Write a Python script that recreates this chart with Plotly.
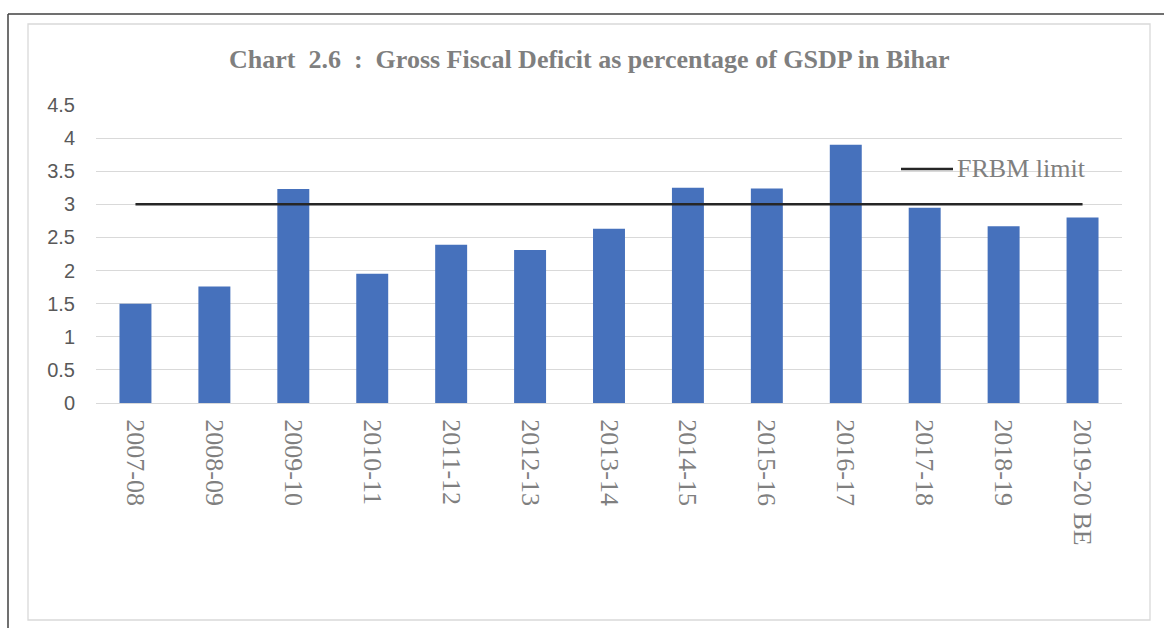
import plotly.graph_objects as go

# Gross Fiscal Deficit as % of GSDP, Bihar
years = ["2007-08", "2008-09", "2009-10", "2010-11", "2011-12", "2012-13",
         "2013-14", "2014-15", "2015-16", "2016-17", "2017-18", "2018-19",
         "2019-20 BE"]
gfd_pct = [1.50, 1.76, 3.23, 1.95, 2.39, 2.31, 2.63, 3.25, 3.24, 3.90, 2.95,
           2.67, 2.80]
frbm_limit = 3
y_ticks = [0, 0.5, 1, 1.5, 2, 2.5, 3, 3.5, 4, 4.5]

W, H = 1164, 628
L, R, T, B = 96, 1122, 105, 403  # plot area in pixels


def px_x(p):
    return (p - L) / (R - L)


def px_y(p):
    return (B - p) / (B - T)


fig = go.Figure()
fig.add_trace(go.Bar(
    x=years, y=gfd_pct, marker=dict(color="#4671BC", line=dict(width=0)),
    showlegend=False, name="GFD",
))
fig.add_trace(go.Scatter(
    x=years, y=[frbm_limit] * len(years), mode="lines",
    line=dict(color="#262626", width=2.5), name="FRBM limit",
))

shapes = [
    # outer frame (top and left edges)
    dict(type="line", xref="paper", yref="paper", x0=px_x(8), x1=px_x(W + 5),
         y0=px_y(14), y1=px_y(14), line=dict(color="#404040", width=1.5)),
    dict(type="line", xref="paper", yref="paper", x0=px_x(8), x1=px_x(8),
         y0=px_y(14), y1=px_y(H + 5), line=dict(color="#404040", width=1.5)),
    # chart area border
    dict(type="rect", xref="paper", yref="paper", x0=px_x(28), x1=px_x(1150),
         y0=px_y(620), y1=px_y(24), line=dict(color="#d9d9d9", width=1.3),
         layer="below"),
    # legend key line
    dict(type="line", xref="paper", yref="paper", x0=px_x(901), x1=px_x(953),
         y0=px_y(169), y1=px_y(169), line=dict(color="#262626", width=2.5)),
]

fig.update_layout(
    width=W, height=H,
    margin=dict(l=L, r=W - R, t=T, b=H - B, pad=0),
    paper_bgcolor="white", plot_bgcolor="white",
    bargap=0.595,
    shapes=shapes,
    showlegend=False,
    annotations=[
        dict(
            text="<b>Chart  2.6  :  Gross Fiscal Deficit as percentage of GSDP in Bihar</b>",
            xref="paper", yref="paper", x=px_x(588.5), y=px_y(60),
            xanchor="center", yanchor="middle", showarrow=False,
            font=dict(family="Liberation Serif", size=26, color="#7f7f7f"),
        ),
        dict(
            text="FRBM limit", xref="paper", yref="paper",
            x=px_x(955), y=px_y(168), xanchor="left", yanchor="middle",
            showarrow=False,
            font=dict(family="Liberation Serif", size=26, color="#7f7f7f"),
        ),
    ],
    xaxis=dict(
        type="category", tickangle=90, showgrid=False, showline=True,
        linecolor="#d9d9d9", linewidth=1.3, ticks="", ticklabelstandoff=10,
        tickfont=dict(family="Liberation Serif", size=26, color="#7f7f7f"),
    ),
    yaxis=dict(
        range=[0, 4.5], tickvals=y_ticks, ticktext=[f"{v:g}" for v in y_ticks],
        showgrid=True, gridcolor="#d9d9d9", gridwidth=1.3, zeroline=False,
        ticks="", ticklabelstandoff=20,
        tickfont=dict(family="Liberation Sans", size=20, color="#595959"),
    ),
)

fig.write_html("out.html")
